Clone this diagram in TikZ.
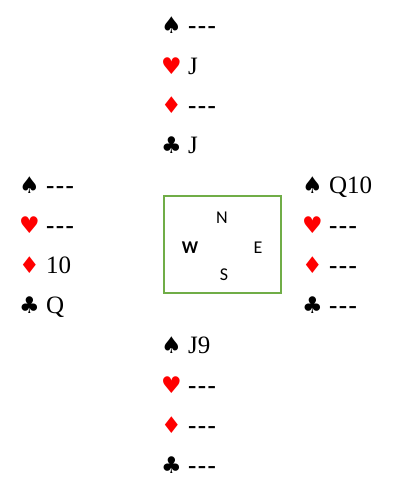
\documentclass[tikz,border=0pt]{standalone}
\usepackage{fontspec}
\setmainfont{Liberation Serif}
\newfontfamily\suitfont{DejaVu Sans}
\newfontfamily\dirfont{Carlito}
\definecolor{boxgreen}{RGB}{112,173,71}
\definecolor{suitred}{RGB}{255,0,0}
\newcommand{\Sp}{{\suitfont\fontsize{23}{23}\selectfont ♠}}
\newcommand{\Ht}{{\suitfont\fontsize{23}{23}\selectfont\color{suitred}♥}}
\newcommand{\Dm}{{\suitfont\fontsize{23}{23}\selectfont\color{suitred}♦}}
\newcommand{\Cl}{{\suitfont\fontsize{23}{23}\selectfont ♣}}
\newcommand{\nil}{\textbf{-\kern1.5pt-\kern1.5pt-}}
\begin{document}
\begin{tikzpicture}[x=1pt,y=-1pt,
  hand/.style={anchor=base west,inner sep=0pt,font=\fontsize{25}{25}\selectfont},
  dir/.style={inner sep=0pt,font=\dirfont\fontsize{18}{18}\selectfont}]
\useasboundingbox (0,0) rectangle (392,490);
% North
\node[hand] (n1) at (161,33) {\Sp\ \nil};
\node[hand] (n2) at (161,74) {\Ht\ J};
\node[hand] (n3) at (161,113) {\Dm\ \nil};
\node[hand] (n4) at (161,153) {\Cl\ J};
% West
\node[hand] (w1) at (19,193) {\Sp\ \nil};
\node[hand] (w2) at (19,233) {\Ht\ \nil};
\node[hand] (w3) at (19,273) {\Dm\ 10};
\node[hand] (w4) at (19,313) {\Cl\ Q};
% East
\node[hand] (e1) at (302,193) {\Sp\ Q10};
\node[hand] (e2) at (302,233) {\Ht\ \nil};
\node[hand] (e3) at (302,273) {\Dm\ \nil};
\node[hand] (e4) at (302,313) {\Cl\ \nil};
% South
\node[hand] (s1) at (161,353) {\Sp\ J9};
\node[hand] (s2) at (161,393) {\Ht\ \nil};
\node[hand] (s3) at (161,433) {\Dm\ \nil};
\node[hand] (s4) at (161,473) {\Cl\ \nil};
% Table
\draw[boxgreen,line width=2pt] (164,196) rectangle (281,293);
\node[dir] (N) at (222,218) {N};
\node[dir] (W) at (190,248) {\bfseries W};
\node[dir] (E) at (258,248) {E};
\node[dir] (S) at (224,275) {S};
\end{tikzpicture}
\end{document}
